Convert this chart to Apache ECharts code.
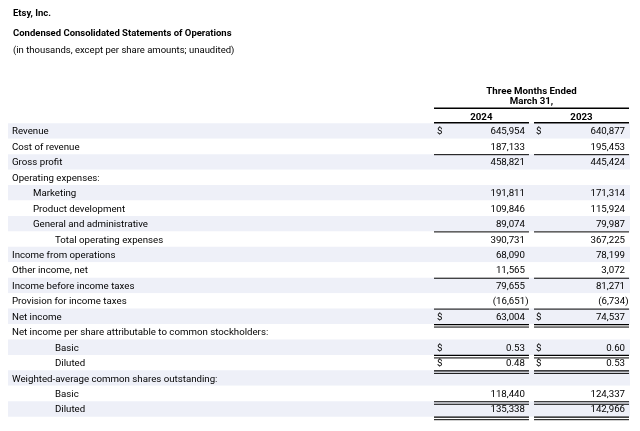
<!DOCTYPE html>
<html><head><meta charset="utf-8">
<script src="https://cdn.jsdelivr.net/npm/echarts@6/dist/echarts.min.js"></script>
<style>html,body{margin:0;padding:0;background:#fff}#c{width:640px;height:431px}</style>
</head><body><div id="c"></div>
<script>
// ---- data ----
const titleLines = ['Etsy, Inc.', 'Condensed Consolidated Statements of Operations', '(in thousands, except per share amounts; unaudited)'];
const headerLines = ['Three Months Ended', 'March 31,'];
const yearLabels = ['2024', '2023'];
const rowLabels = [
  'Revenue', 'Cost of revenue', 'Gross profit', 'Operating expenses:', 'Marketing',
  'Product development', 'General and administrative', 'Total operating expenses',
  'Income from operations', 'Other income, net', 'Income before income taxes',
  'Provision for income taxes', 'Net income',
  'Net income per share attributable to common stockholders:', 'Basic', 'Diluted',
  'Weighted-average common shares outstanding:', 'Basic', 'Diluted'
];
const indentLevels = [0,0,0,0,1,1,1,2,0,0,0,0,0,0,2,2,0,2,2];
const values2024 = [645954, 187133, 458821, null, 191811, 109846, 89074, 390731, 68090, 11565, 79655, -16651, 63004, null, 0.53, 0.48, null, 118440, 135338];
const values2023 = [640877, 195453, 445424, null, 171314, 115924, 79987, 367225, 78199, 3072, 81271, -6734, 74537, null, 0.60, 0.53, null, 124337, 142966];
const dollarRows = [0, 12, 14, 15];
const ruleBelow = ['', 'single', '', '', '', '', 'single', '', '', 'single', '', 'single', 'double', '', 'double', 'double', '', 'double', 'double'];
const perShareRows = [14, 15];

// ---- layout (percent of table width) ----
const cols = [
  { left: 68.49, right: 83.76, dollar: 68.97, valueRight: 83.12, center: 76.1 },
  { left: 84.57, right: 99.84, dollar: 84.89, valueRight: 99.2, center: 92.2 }
];
const headerCenter = 84.16;
const FONT = 'Roboto';
const FS = 9.7;
const TXT = '#000';

const seriesValues = [values2024, values2023];

function fmt(v, r) {
  if (v == null) return '';
  const dec = perShareRows.includes(r) ? 2 : 0;
  const s = Math.abs(v).toLocaleString('en-US', { minimumFractionDigits: dec, maximumFractionDigits: dec });
  return v < 0 ? '(' + s + ')' : s;
}

function renderItem(params, api) {
  const r = api.value(0);
  const h = api.size([0, 1])[1];
  const cy = api.coord([0, r])[1];
  const ty = cy + 1;
  const bottom = cy + h / 2;
  const children = [];
  for (let k = 0; k < 2; k++) {
    const col = cols[k];
    const v = seriesValues[k][r];
    const xl = api.coord([col.left, r])[0];
    const xr = api.coord([col.right, r])[0];
    const xv = api.coord([col.valueRight, r])[0];
    const xd = api.coord([col.dollar, r])[0];
    if (v != null) {
      children.push({
        type: 'text',
        style: { x: v < 0 ? xv + 3.5 : xv, y: ty, text: fmt(v, r), align: 'right', verticalAlign: 'middle', font: FS + 'px ' + FONT, fill: TXT }
      });
    }
    if (dollarRows.includes(r)) {
      children.push({ type: 'text', style: { x: xd, y: ty, text: '$', align: 'left', verticalAlign: 'middle', font: FS + 'px ' + FONT, fill: TXT } });
    }
    const rule = ruleBelow[r];
    if (rule === 'single') {
      children.push({ type: 'line', shape: { x1: xl, y1: bottom + 0.5, x2: xr, y2: bottom + 0.5 }, style: { stroke: TXT, lineWidth: 1 } });
    } else if (rule === 'double') {
      children.push({ type: 'line', shape: { x1: xl, y1: bottom + 0.5, x2: xr, y2: bottom + 0.5 }, style: { stroke: TXT, lineWidth: 1.2 } });
      children.push({ type: 'line', shape: { x1: xl, y1: bottom + 3, x2: xr, y2: bottom + 3 }, style: { stroke: TXT, lineWidth: 1 } });
    }
    if (r === 0) {
      const top = cy - h / 2;
      children.push({ type: 'text', style: { x: api.coord([col.center, r])[0], y: top - 6, text: yearLabels[k], align: 'center', verticalAlign: 'middle', font: 'bold ' + FS + 'px ' + FONT, fill: TXT } });
      children.push({ type: 'line', shape: { x1: xl, y1: top - 0.5, x2: xr, y2: top - 0.5 }, style: { stroke: TXT, lineWidth: 1.5 } });
    }
  }
  if (r === 0) {
    const top = cy - h / 2;
    const xc = api.coord([headerCenter, r])[0];
    children.push({ type: 'text', style: { x: xc, y: top - 31.5, text: headerLines[0], align: 'center', verticalAlign: 'middle', font: 'bold ' + FS + 'px ' + FONT, fill: TXT } });
    children.push({ type: 'text', style: { x: xc, y: top - 22, text: headerLines[1], align: 'center', verticalAlign: 'middle', font: 'bold ' + FS + 'px ' + FONT, fill: TXT } });
    children.push({ type: 'line', shape: { x1: api.coord([cols[0].left, r])[0], y1: top - 15, x2: api.coord([cols[1].right, r])[0], y2: top - 15 }, style: { stroke: TXT, lineWidth: 1.5 } });
  }
  return { type: 'group', children };
}

const chart = echarts.init(document.getElementById('c'), null, { renderer: 'canvas' });
chart.setOption({
  animation: false,
  backgroundColor: '#fff',
  title: [
    { text: titleLines[0], left: 8, top: 4, textStyle: { fontFamily: FONT, fontSize: 9.5, fontWeight: 'bold', color: TXT } },
    { text: titleLines[1], left: 8, top: 24, textStyle: { fontFamily: FONT, fontSize: 9.5, fontWeight: 'bold', color: TXT } },
    { text: titleLines[2], left: 8, top: 41, textStyle: { fontFamily: FONT, fontSize: 9.5, fontWeight: 'normal', color: TXT } }
  ],
  grid: { left: 8, right: 10, top: 123.3, bottom: 14.3, containLabel: false },
  xAxis: { type: 'value', min: 0, max: 100, show: false },
  yAxis: {
    type: 'category', data: rowLabels, inverse: true,
    axisLine: { show: false }, axisTick: { show: false }, splitLine: { show: false },
    splitArea: { show: true, interval: 0, areaStyle: { color: ['#eef0f8', '#ffffff'] } },
    axisLabel: {
      inside: true, margin: 4, interval: 0, color: TXT, fontFamily: FONT, fontSize: FS,
      formatter: (val, idx) => '{i' + indentLevels[idx] + '|' + val + '}',
      rich: {
        i0: { fontFamily: FONT, fontSize: FS, color: TXT, padding: [2, 0, 0, 0] },
        i1: { fontFamily: FONT, fontSize: FS, color: TXT, padding: [2, 0, 0, 21] },
        i2: { fontFamily: FONT, fontSize: FS, color: TXT, padding: [2, 0, 0, 43] }
      }
    }
  },
  series: [{
    type: 'custom',
    renderItem,
    encode: { y: 0 },
    data: rowLabels.map((_, i) => [i]),
    clip: false
  }]
});
</script></body></html>
